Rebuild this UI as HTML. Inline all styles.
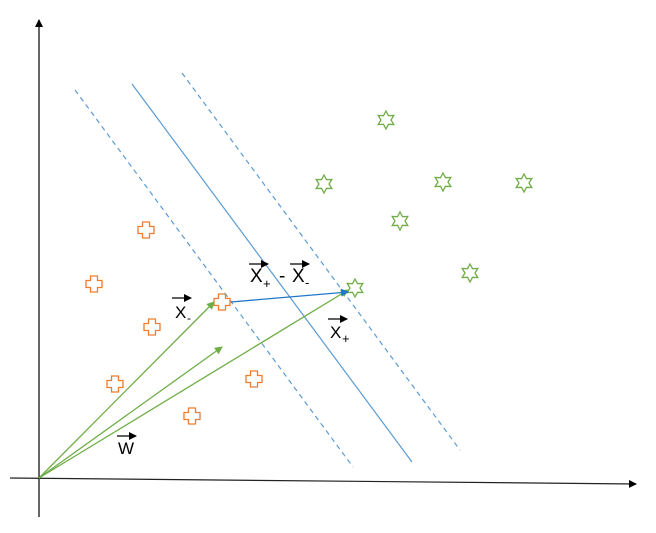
<!DOCTYPE html>
<html><head><meta charset="utf-8"><style>
html,body{margin:0;padding:0;background:#fff;}
svg{display:block;font-family:"Liberation Sans",sans-serif;}
</style></head><body>
<svg id="c" width="656" height="533" viewBox="0 0 656 533">
<defs>
<marker id="ak" markerWidth="8" markerHeight="8" refX="7" refY="4" orient="auto" markerUnits="userSpaceOnUse"><path d="M0,0 L8,4 L0,8 z" fill="#000"/></marker>
<marker id="ag" markerWidth="8" markerHeight="8" refX="7" refY="4" orient="auto" markerUnits="userSpaceOnUse"><path d="M0,0 L8,4 L0,8 z" fill="#6fad46"/></marker>
<marker id="ab" markerWidth="8" markerHeight="8" refX="7" refY="4" orient="auto" markerUnits="userSpaceOnUse"><path d="M0,0 L8,4 L0,8 z" fill="#1f78c8"/></marker>
</defs>
<line x1="39" y1="517" x2="39" y2="20" stroke="#000" stroke-width="1.2" marker-end="url(#ak)"/>
<line x1="10" y1="478" x2="636" y2="484" stroke="#222" stroke-width="1.2" marker-end="url(#ak)"/>
<line x1="75" y1="90" x2="353" y2="467" stroke="#5b9bd5" stroke-width="1.2" stroke-dasharray="5,4"/>
<line x1="132" y1="84" x2="412" y2="462" stroke="#5b9bd5" stroke-width="1.2"/>
<line x1="182" y1="73" x2="460" y2="450" stroke="#5b9bd5" stroke-width="1.2" stroke-dasharray="5,4"/>
<g id="pts"></g>
<line x1="39" y1="478" x2="214" y2="302" stroke="#6fad46" stroke-width="1.3" marker-end="url(#ag)"/>
<line x1="39" y1="478" x2="222" y2="347" stroke="#6fad46" stroke-width="1.3" marker-end="url(#ag)"/>
<line x1="39" y1="478" x2="348" y2="290" stroke="#6fad46" stroke-width="1.3" marker-end="url(#ag)"/>
<line x1="231" y1="302" x2="348" y2="292" stroke="#1f78c8" stroke-width="1.3" marker-end="url(#ab)"/>
<g>
<line x1="249" y1="264" x2="268" y2="264" stroke="#000" stroke-width="1.2" marker-end="url(#ak)"/>
<text x="250" y="282" font-size="19">X</text><text x="263" y="288" font-size="13">+</text>
<text x="279" y="282" font-size="19">-</text>
<line x1="290" y1="264" x2="309" y2="264" stroke="#000" stroke-width="1.2" marker-end="url(#ak)"/>
<text x="292" y="282" font-size="19">X</text><text x="305" y="287" font-size="13">-</text>
</g>
<g>
<line x1="172" y1="298" x2="191" y2="298" stroke="#000" stroke-width="1.2" marker-end="url(#ak)"/>
<text x="175" y="318" font-size="17">X</text><text x="187" y="322" font-size="12">-</text>
</g>
<g>
<line x1="328" y1="319" x2="347" y2="319" stroke="#000" stroke-width="1.2" marker-end="url(#ak)"/>
<text x="330" y="338" font-size="17">X</text><text x="342" y="343" font-size="13">+</text>
</g>
<g>
<line x1="117" y1="436" x2="136" y2="436" stroke="#000" stroke-width="1.2" marker-end="url(#ak)"/>
<text x="118" y="454" font-size="17">W</text>
</g>
</svg>
<script>
const negX=[146,94,152,115,254,192,222];
const negY=[230,284,327,384,379,416,302];
const posX=[386,324,443,524,400,470,355];
const posY=[120,184,182,183,221,273,288];
const NS="http://www.w3.org/2000/svg";
const g=document.getElementById('pts');
for(let i=0;i<negX.length;i++){
  const x=negX[i],y=negY[i],a=3.5,b=8;
  const p=document.createElementNS(NS,'path');
  p.setAttribute('d',`M${x-a},${y-b}H${x+a}V${y-a}H${x+b}V${y+a}H${x+a}V${y+b}H${x-a}V${y+a}H${x-b}V${y-a}H${x-a}Z`);
  p.setAttribute('fill','#fff');p.setAttribute('stroke','#ed7d31');p.setAttribute('stroke-width','1.3');
  
  
  g.appendChild(p);
}
for(let i=0;i<posX.length;i++){
  const x=posX[i],y=posY[i];let d='';
  for(let k=0;k<12;k++){const r=k%2?5:9;const t=-Math.PI/2+k*Math.PI/6;d+=(k?'L':'M')+(x+r*Math.cos(t)).toFixed(1)+','+(y+r*Math.sin(t)).toFixed(1);}
  const p=document.createElementNS(NS,'path');
  p.setAttribute('d',d+'Z');p.setAttribute('fill','none');p.setAttribute('stroke','#70ad47');p.setAttribute('stroke-width','1.3');
  
  
  g.appendChild(p);
}
</script>
</body></html>
